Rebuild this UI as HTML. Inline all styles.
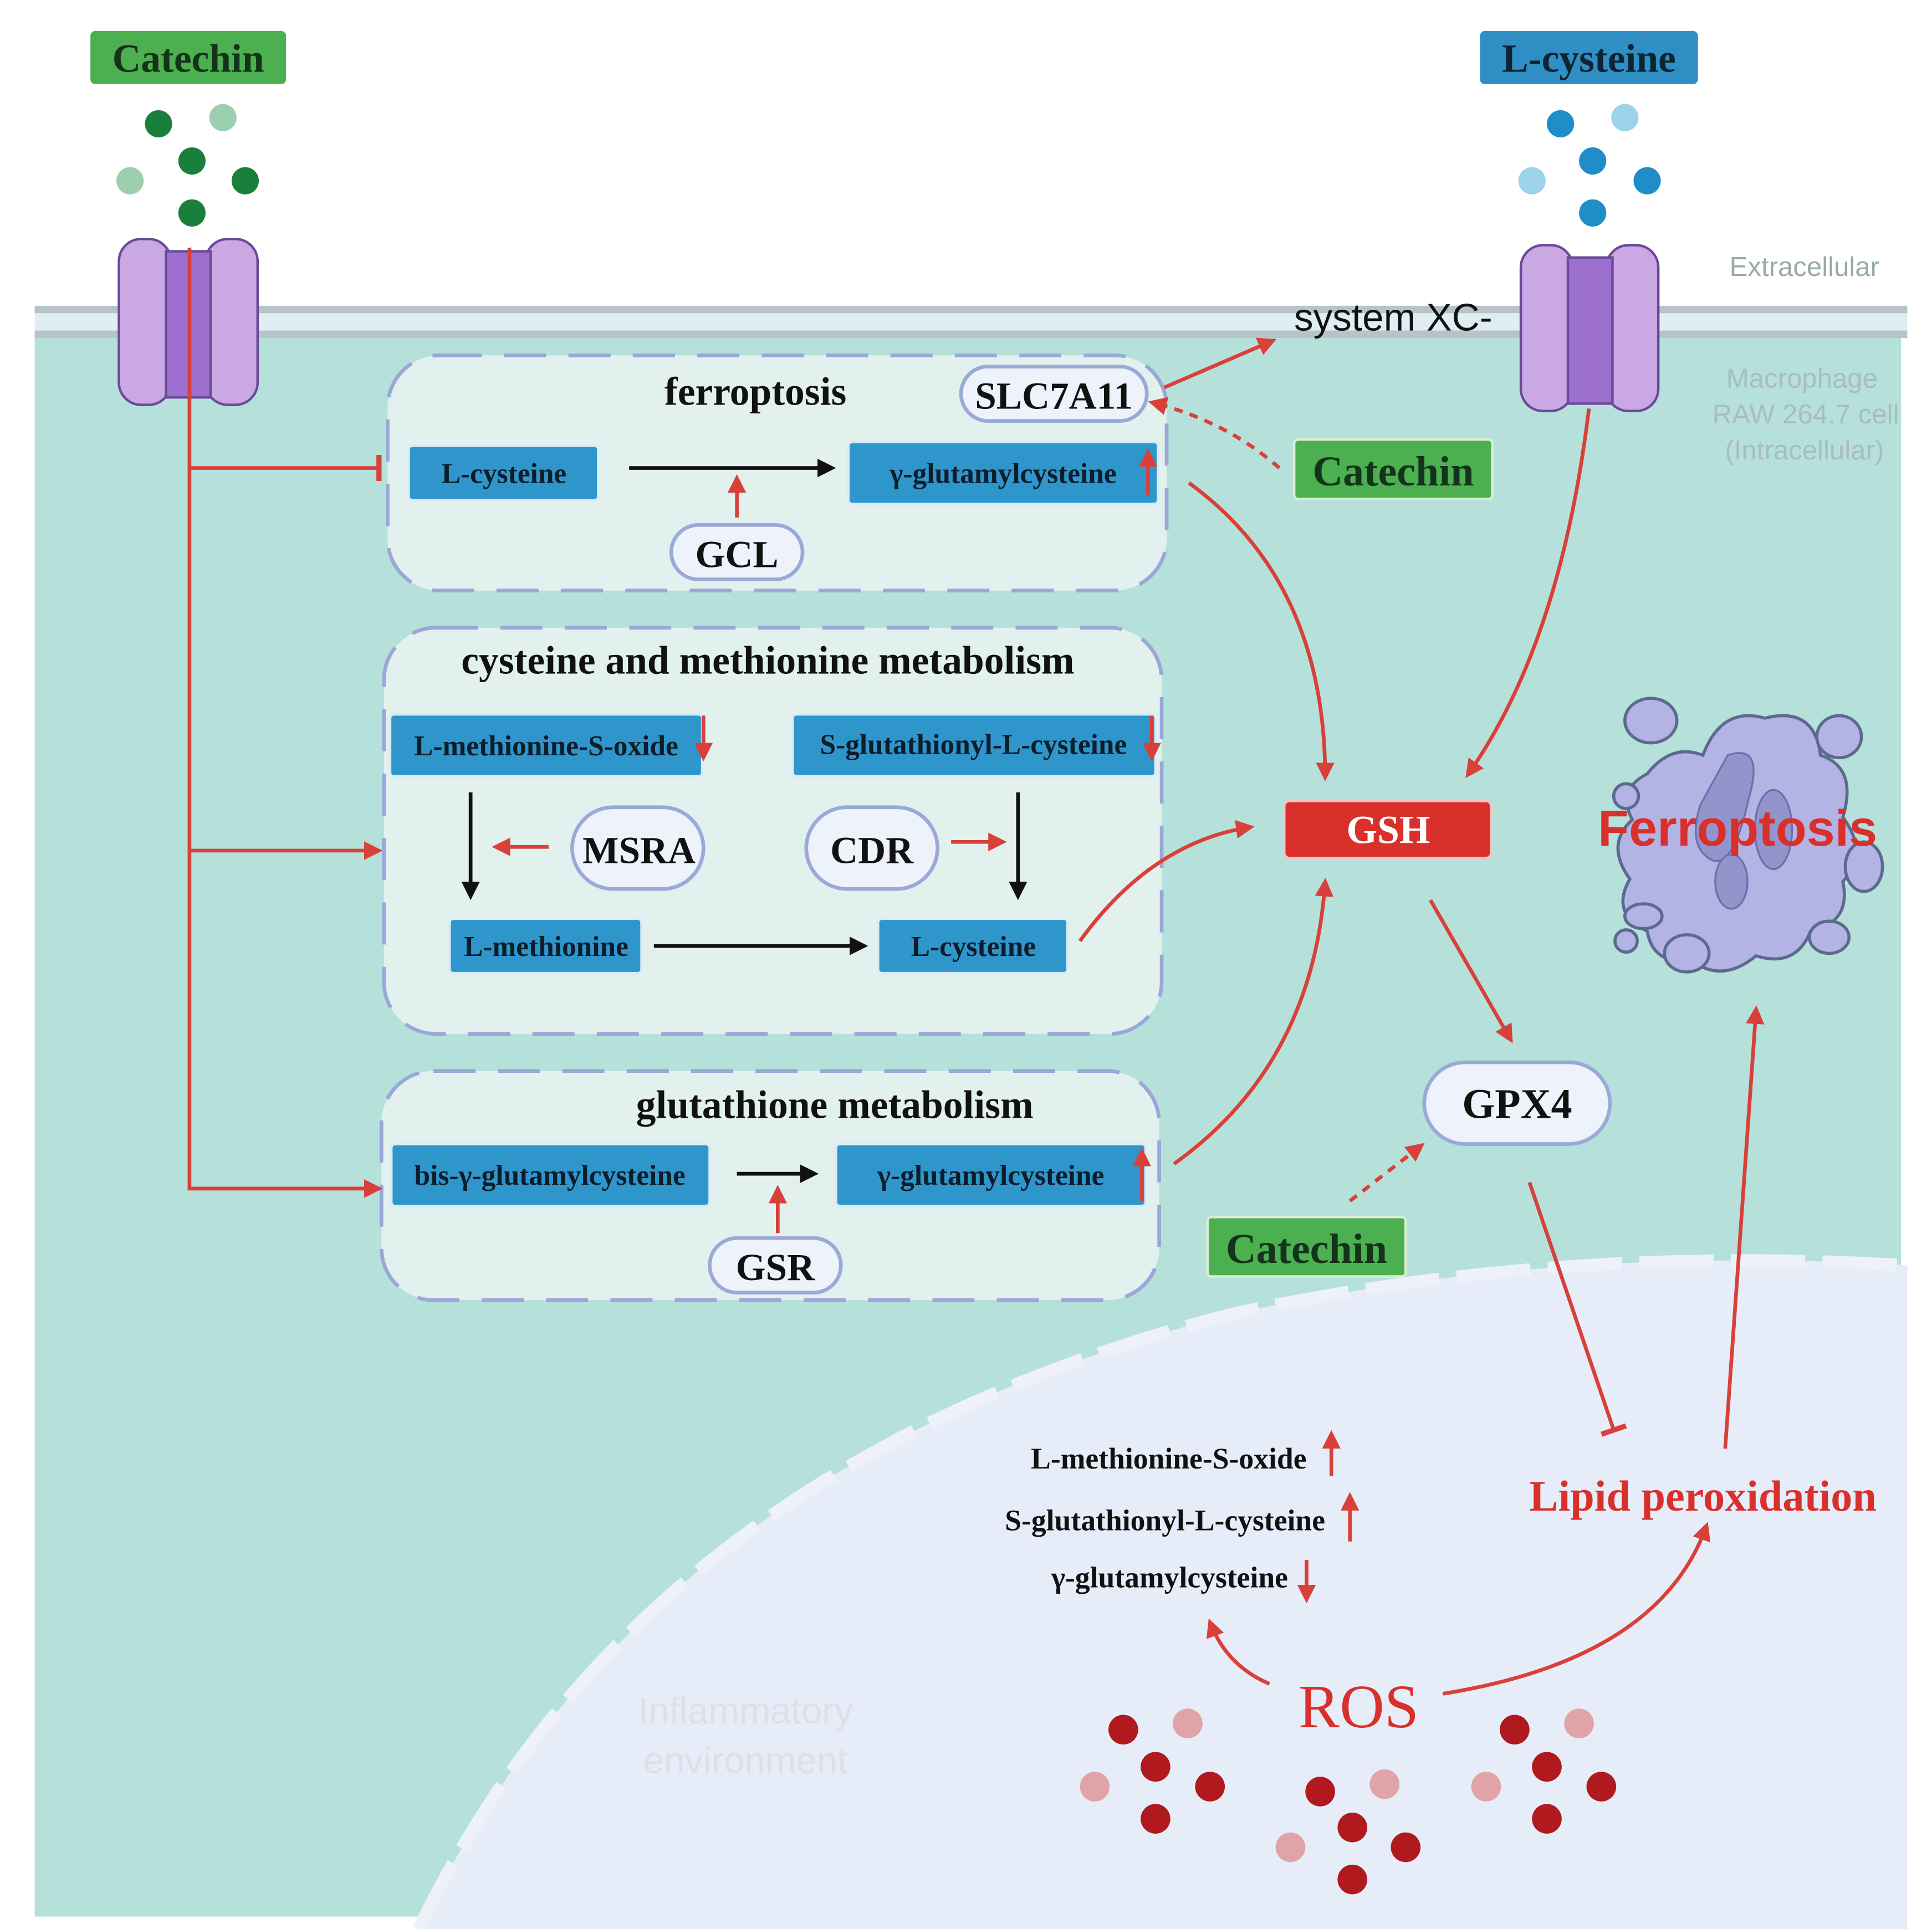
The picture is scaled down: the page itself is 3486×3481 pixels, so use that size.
<!DOCTYPE html>
<html><head><meta charset="utf-8"><style>
html,body{margin:0;padding:0;background:#fff}
svg{display:block}
.s{font-family:"Liberation Serif",serif}
.a{font-family:"Liberation Sans",sans-serif}
</style></head><body>
<svg width="3486" height="3481" viewBox="0 0 1560 1558" preserveAspectRatio="none" xmlns="http://www.w3.org/2000/svg">
<defs>
<marker id="r" viewBox="0 0 10 10" refX="8" refY="5" markerWidth="5" markerHeight="5" orient="auto"><path d="M0,0L10,5L0,10z" fill="#d9403a"/></marker>
<marker id="k" viewBox="0 0 10 10" refX="8" refY="5" markerWidth="5" markerHeight="5" orient="auto"><path d="M0,0L10,5L0,10z" fill="#111"/></marker>
<marker id="t" viewBox="0 0 4 20" refX="2" refY="10" markerWidth="3" markerHeight="7" orient="auto"><rect x="0" y="0" width="4" height="20" fill="#d9403a"/></marker>
</defs>
<rect width="1560" height="1558" fill="#fff"/>
<rect x="28" y="262" width="1507" height="1286" fill="#b5e1da"/>
<rect x="28" y="247" width="1512" height="26" fill="#dfeef2"/>
<line x1="28" y1="250" x2="1540" y2="250" stroke="#b7c3c9" stroke-width="6"/>
<line x1="28" y1="270" x2="1540" y2="270" stroke="#b7c3c9" stroke-width="6"/>
<path d="M338,1558 Q520,1180 1000,1060 Q1260,1005 1540,1022 L1540,1558Z" fill="#e6edf8"/>
<path d="M338,1558 Q520,1180 1000,1060 Q1260,1005 1540,1022" fill="none" stroke="#eef2f8" stroke-width="10" stroke-dasharray="60,14"/>
<text x="602" y="1392" class="a" font-size="30" fill="#dde0e6" text-anchor="middle">Inflammatory</text>
<text x="602" y="1432" class="a" font-size="30" fill="#dde0e6" text-anchor="middle">environment</text>
<rect x="73" y="25" width="158" height="43" rx="4" fill="#4caf50"/>
<text x="152" y="58" class="s" font-size="32" font-weight="bold" text-anchor="middle" style="fill:#13331a">Catechin</text>
<rect x="1195" y="25" width="176" height="43" rx="4" fill="#2f8fc4"/>
<text x="1283" y="58" class="s" font-size="32" font-weight="bold" fill="#0d2433" text-anchor="middle">L-cysteine</text>
<g fill="#1a7f3a"><circle cx="128" cy="100" r="11"/><circle cx="155" cy="130" r="11"/><circle cx="198" cy="146" r="11"/><circle cx="155" cy="172" r="11"/></g>
<g fill="#9ccfb0"><circle cx="180" cy="95" r="11"/><circle cx="105" cy="146" r="11"/></g>
<g fill="#1f8dc8"><circle cx="1260" cy="100" r="11"/><circle cx="1286" cy="130" r="11"/><circle cx="1330" cy="146" r="11"/><circle cx="1286" cy="172" r="11"/></g>
<g fill="#9ad3ea"><circle cx="1312" cy="95" r="11"/><circle cx="1237" cy="146" r="11"/></g>
<g stroke="#6a4a99" stroke-width="2">
<rect x="96" y="193" width="42" height="134" rx="18" fill="#c9a8e3"/>
<rect x="166" y="193" width="42" height="134" rx="18" fill="#c9a8e3"/>
<rect x="134" y="203" width="36" height="118" fill="#9d6fcf"/>
<rect x="1228" y="198" width="42" height="134" rx="18" fill="#c9a8e3"/>
<rect x="1297" y="198" width="42" height="134" rx="18" fill="#c9a8e3"/>
<rect x="1266" y="208" width="36" height="118" fill="#9d6fcf"/>
</g>
<text x="1457" y="223" class="a" font-size="22" fill="#9aa" text-anchor="middle">Extracellular</text>
<g class="a" font-size="22" fill="#a9bdbf" text-anchor="middle"><text x="1455" y="313">Macrophage</text><text x="1458" y="342">RAW 264.7 cell</text><text x="1457" y="371">(Intracellular)</text></g>
<text x="1125" y="267" class="a" font-size="31" fill="#111" text-anchor="middle">system XC-</text>
<g fill="#e2f1ee" stroke="#9aa7d8" stroke-width="3" stroke-dasharray="34,18">
<rect x="313" y="287" width="629" height="190" rx="42"/>
<rect x="310" y="507" width="628" height="328" rx="42"/>
<rect x="308" y="865" width="628" height="185" rx="42"/>
</g>
<g class="s" font-size="32" font-weight="bold" fill="#111" text-anchor="middle">
<text x="610" y="327">ferroptosis</text>
<text x="620" y="544">cysteine and methionine metabolism</text>
<text x="674" y="903">glutathione metabolism</text>
</g>
<g fill="#2f96cc" stroke="#d8ecf5" stroke-width="2">
<rect x="330" y="360" width="153" height="44" rx="3"/>
<rect x="685" y="357" width="250" height="50" rx="3"/>
<rect x="315" y="577" width="252" height="50" rx="3"/>
<rect x="640" y="577" width="293" height="50" rx="3"/>
<rect x="363" y="742" width="155" height="44" rx="3"/>
<rect x="709" y="742" width="153" height="44" rx="3"/>
<rect x="316" y="924" width="257" height="50" rx="3"/>
<rect x="675" y="924" width="250" height="50" rx="3"/>
</g>
<g class="s" font-size="23" font-weight="bold" fill="#0d1d2a" text-anchor="middle">
<text x="407" y="390">L-cysteine</text>
<text x="810" y="390">γ-glutamylcysteine</text>
<text x="441" y="610">L-methionine-S-oxide</text>
<text x="786" y="609">S-glutathionyl-L-cysteine</text>
<text x="441" y="772">L-methionine</text>
<text x="786" y="772">L-cysteine</text>
<text x="444" y="957">bis-γ-glutamylcysteine</text>
<text x="800" y="957">γ-glutamylcysteine</text>
</g>
<g fill="#eef3fb" stroke="#9aaad8" stroke-width="3">
<rect x="776" y="296" width="150" height="44" rx="22"/>
<rect x="542" y="424" width="106" height="44" rx="22"/>
<rect x="462" y="652" width="106" height="66" rx="33"/>
<rect x="651" y="652" width="106" height="66" rx="33"/>
<rect x="573" y="1000" width="106" height="44" rx="22"/>
<rect x="1150" y="858" width="150" height="66" rx="33"/>
</g>
<g class="s" font-size="31" font-weight="bold" fill="#111" text-anchor="middle">
<text x="851" y="330">SLC7A11</text>
<text x="595" y="458">GCL</text>
<text x="516" y="697">MSRA</text>
<text x="704" y="697">CDR</text>
<text x="626" y="1034">GSR</text>
<text x="1225" y="903" font-size="34">GPX4</text>
</g>
<g fill="#4caf50" stroke="#d7efd5" stroke-width="2">
<rect x="1045" y="355" width="160" height="48" rx="3"/>
<rect x="975" y="983" width="160" height="48" rx="3"/>
</g>
<g class="s" font-size="34" font-weight="bold" fill="#13331a" text-anchor="middle">
<text x="1125" y="392">Catechin</text><text x="1055" y="1020">Catechin</text>
</g>
<rect x="1037" y="647" width="167" height="46" rx="4" fill="#d9302c" stroke="#f2c4c2" stroke-width="2"/>
<text x="1121" y="681" class="s" font-size="32" font-weight="bold" fill="#fff" text-anchor="middle">GSH</text>
<g stroke="#5c6a8e" stroke-width="2.5" fill="#b3b3e4">
<path d="M1330,625 Q1350,600 1375,610 Q1390,570 1425,580 Q1465,570 1470,610 Q1500,620 1488,660 Q1510,690 1488,712 Q1495,745 1462,752 Q1450,782 1418,772 Q1390,795 1365,775 Q1335,780 1330,752 Q1300,738 1316,710 Q1296,682 1318,662 Q1305,638 1330,625Z"/>
<ellipse cx="1333" cy="582" rx="21" ry="18"/><ellipse cx="1485" cy="595" rx="18" ry="17"/><circle cx="1313" cy="643" r="10"/>
<ellipse cx="1505" cy="700" rx="15" ry="20"/><ellipse cx="1327" cy="740" rx="15" ry="10"/><circle cx="1313" cy="760" r="9"/>
<ellipse cx="1362" cy="770" rx="18" ry="15"/><ellipse cx="1477" cy="757" rx="16" ry="13"/>
</g>
<g fill="#9494cc" stroke="#6e6eaa" stroke-width="1.5"><path d="M1395,610 Q1425,600 1412,645 Q1400,700 1383,695 Q1362,685 1373,650Z"/><ellipse cx="1432" cy="670" rx="15" ry="32"/><ellipse cx="1398" cy="712" rx="13" ry="22"/></g>
<text x="1403" y="683" class="a" font-size="41" font-weight="bold" fill="#d9302c" text-anchor="middle">Ferroptosis</text>
<g stroke="#111" stroke-width="3" marker-end="url(#k)" fill="none">
<line x1="508" y1="378" x2="672" y2="378"/>
<line x1="380" y1="640" x2="380" y2="724"/>
<line x1="822" y1="640" x2="822" y2="724"/>
<line x1="528" y1="764" x2="698" y2="764"/>
<line x1="595" y1="948" x2="658" y2="948"/>
</g>
<g stroke="#d9403a" stroke-width="3" fill="none" marker-end="url(#r)">
<line x1="595" y1="418" x2="595" y2="386"/>
<line x1="443" y1="684" x2="400" y2="684"/>
<line x1="768" y1="680" x2="810" y2="680"/>
<line x1="628" y1="996" x2="628" y2="960"/>
<path d="M153,200 L153,960 L306,960"/>
<path d="M153,687 L306,687"/>
<line x1="940" y1="313" x2="1028" y2="275"/>
<path d="M960,390 Q1070,470 1070,628"/>
<path d="M1283,330 Q1260,520 1185,626"/>
<path d="M872,760 Q930,680 1010,668"/>
<path d="M948,940 Q1060,860 1070,712"/>
<line x1="1155" y1="727" x2="1220" y2="840"/>
<line x1="1393" y1="1170" x2="1418" y2="815"/>
<path d="M1165,1368 Q1340,1340 1378,1232"/>
<path d="M1025,1360 Q990,1345 977,1310"/>
<line x1="927" y1="400" x2="927" y2="365"/>
<line x1="568" y1="578" x2="568" y2="612"/>
<line x1="930" y1="578" x2="930" y2="612"/>
<line x1="922" y1="970" x2="922" y2="930"/>
<line x1="1075" y1="1192" x2="1075" y2="1158"/>
<line x1="1090" y1="1245" x2="1090" y2="1208"/>
<line x1="1055" y1="1260" x2="1055" y2="1292"/>
</g>
<path d="M153,378 L306,378" stroke="#d9403a" stroke-width="3" fill="none" marker-end="url(#t)"/>
<path d="M1235,955 L1303,1155" stroke="#d9403a" stroke-width="3" fill="none" marker-end="url(#t)"/>
<g stroke="#d9403a" stroke-width="3" fill="none" stroke-dasharray="7,6" marker-end="url(#r)">
<path d="M1033,378 Q990,340 930,325"/>
<line x1="1090" y1="970" x2="1148" y2="925"/>
</g>
<g class="s" font-size="24" font-weight="bold" fill="#111" text-anchor="end">
<text x="1055" y="1186">L-methionine-S-oxide</text>
<text x="1070" y="1236">S-glutathionyl-L-cysteine</text>
<text x="1040" y="1282">γ-glutamylcysteine</text>
</g>
<text x="1375" y="1220" class="s" font-size="35" font-weight="bold" fill="#d9302c" text-anchor="middle">Lipid peroxidation</text>
<text x="1097" y="1395" class="s" font-size="50" fill="#d9302c" text-anchor="middle">ROS</text>
<g fill="#b0191e"><circle cx="907" cy="1397" r="12"/><circle cx="933" cy="1427" r="12"/><circle cx="977" cy="1443" r="12"/><circle cx="933" cy="1469" r="12"/>
<circle cx="1066" cy="1447" r="12"/><circle cx="1092" cy="1476" r="12"/><circle cx="1135" cy="1492" r="12"/><circle cx="1092" cy="1518" r="12"/>
<circle cx="1223" cy="1397" r="12"/><circle cx="1249" cy="1427" r="12"/><circle cx="1293" cy="1443" r="12"/><circle cx="1249" cy="1469" r="12"/></g>
<g fill="#e0a4a8"><circle cx="959" cy="1392" r="12"/><circle cx="884" cy="1443" r="12"/><circle cx="1118" cy="1441" r="12"/><circle cx="1042" cy="1492" r="12"/><circle cx="1275" cy="1392" r="12"/><circle cx="1200" cy="1443" r="12"/></g>
</svg>
</body></html>
